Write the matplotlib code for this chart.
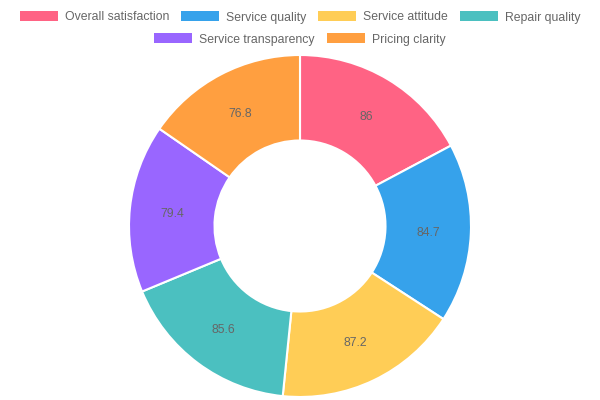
import matplotlib
matplotlib.use('Agg')
import matplotlib.pyplot as plt
from matplotlib.patches import Rectangle
import numpy as np

# data
labels = ['Overall satisfaction', 'Service quality', 'Service attitude',
          'Repair quality', 'Service transparency', 'Pricing clarity']
values = [86, 84.7, 87.2, 85.6, 79.4, 76.8]
colors = ['#ff6384', '#36a2eb', '#ffcd56', '#4bc0c0', '#9966ff', '#ff9f40']

plt.rcParams['font.family'] = ['Liberation Sans', 'DejaVu Sans']
W, H = 600, 400
fig = plt.figure(figsize=(6, 4), dpi=100)

# doughnut, centre (300,226) r=171 px
cx, cy, r = 300, 226, 171
ax = fig.add_axes([(cx - r) / W, (H - cy - r) / H, 2 * r / W, 2 * r / H])
wedges, _ = ax.pie(values, colors=colors, startangle=90, counterclock=False,
                   radius=1.0, wedgeprops=dict(width=0.5, edgecolor='white', linewidth=1.5))
ax.set_xlim(-1, 1)
ax.set_ylim(-1, 1)
ax.set_aspect('equal')
ax.axis('off')

total = sum(values)
start = 90.0
for v in values:
    mid = np.deg2rad(start - v / total * 360 / 2)
    ax.text(0.75 * np.cos(mid), 0.75 * np.sin(mid) - 0.008, f'{v:g}', ha='center', va='center',
            fontsize=8.8, color='#666666')
    start -= v / total * 360

# legend, Chart.js style
fs = 8.8
box_w, box_h, gap, pad = 38, 10, 7, 12
fig.canvas.draw()
renderer = fig.canvas.get_renderer()

def text_w(s):
    t = fig.text(0, 0, s, fontsize=fs)
    w = t.get_window_extent(renderer).width
    t.remove()
    return w

rows = [[0, 1, 2, 3], [4, 5]]
row_y = [16, 38]
for row, y in zip(rows, row_y):
    widths = [box_w + gap + text_w(labels[i]) for i in row]
    total_w = sum(widths) + pad * (len(row) - 1)
    x = (W - total_w) / 2
    for i, w in zip(row, widths):
        fig.patches.append(Rectangle((x / W, (H - y - box_h / 2) / H), box_w / W, box_h / H,
                                     transform=fig.transFigure, facecolor=colors[i],
                                     edgecolor='none'))
        fig.text((x + box_w + gap) / W, (H - y) / H, labels[i], fontsize=fs,
                 color='#666666', va='center_baseline', ha='left')
        x += w + pad

fig.savefig('out.png', dpi=100)
